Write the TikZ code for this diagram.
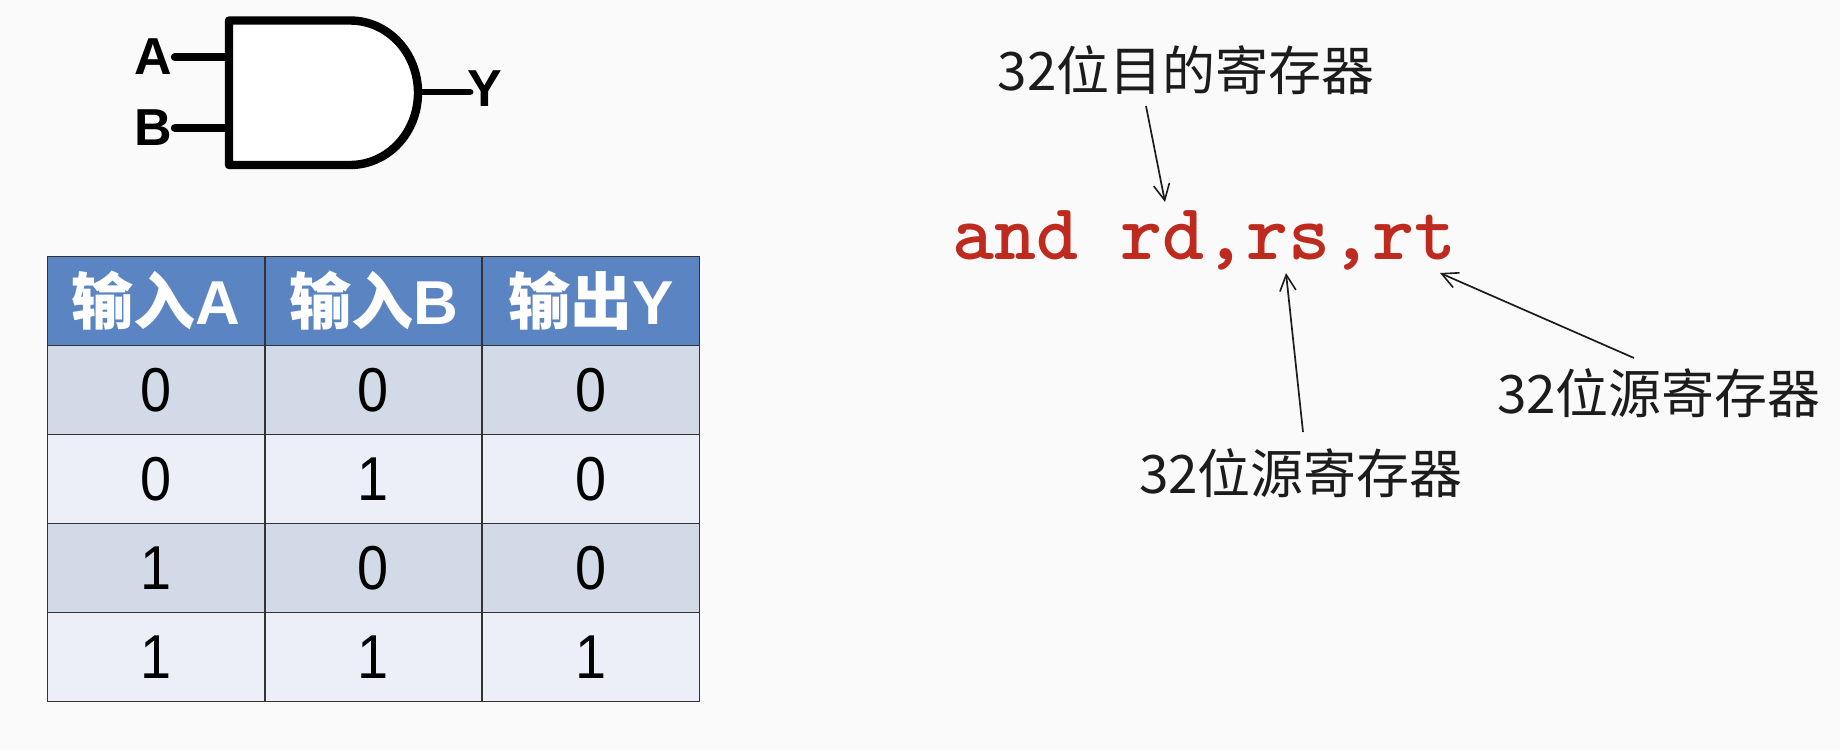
\documentclass[tikz,border=0pt]{standalone}
\usepackage{fontspec}
\setmainfont{Liberation Sans}
\newfontfamily\cjk{Noto Sans CJK SC}
\newfontfamily\tallnum[FakeStretch=0.9]{Liberation Sans}
\usetikzlibrary{arrows.meta}
\definecolor{bgc}{HTML}{FAFAFA}
\definecolor{headc}{HTML}{5B85C2}
\definecolor{rowa}{HTML}{D3DAE7}
\definecolor{rowb}{HTML}{ECEFF7}
\definecolor{codec}{HTML}{BE2A1E}
\definecolor{inkc}{HTML}{1C1C1C}
\tikzset{
  x=0.5pt,y=-0.5pt,
  gatelabel/.style={font=\fontsize{26}{26}\selectfont\bfseries,text=black,inner sep=0pt},
  lead/.style={line width=4.2pt,line cap=round},
  cell/.style={draw=inkc!90,line width=0.85pt,minimum width=108.5pt,minimum height=44.4pt,inner sep=0pt,anchor=center},
  headcell/.style={cell,fill=headc,text=white,font=\fontsize{31}{31}\selectfont\bfseries},
  cella/.style={cell,fill=rowa,text=black,font=\fontsize{31}{31}\selectfont\tallnum},
  cellb/.style={cell,fill=rowb,text=black,font=\fontsize{31}{31}\selectfont\tallnum},
  note/.style={font=\fontsize{26.5}{26.5}\selectfont\cjk,text=inkc,inner sep=0pt},
  pointer/.style={-{Straight Barb[length=8pt,width=8pt,line width=0.8pt]},line width=0.85pt,draw=inkc},
}
\begin{document}
\begin{tikzpicture}
\useasboundingbox[fill=bgc] (0,0) rectangle (1840,750);
% gate
\coordinate (aend) at (175,57);
\coordinate (bend) at (175,128);
\coordinate (ain) at (229,57);
\coordinate (bin) at (229,128);
\coordinate (yout) at (418,92);
\coordinate (yend) at (470,92);
\draw[lead] (aend) -- (ain);
\draw[lead] (bend) -- (bin);
\draw[line width=3.4pt,line cap=round] (yout) -- (yend);
\draw[line width=4.2pt,fill=white,line join=round] (229,20.5) -- (350,20.5)
  .. controls (388,20.5) and (418,53) .. (418,92.7)
  .. controls (418,132.5) and (388,165) .. (350,165) -- (229,165) -- cycle;
\node[gatelabel] (labA) at (153,57) {A};
\node[gatelabel] (labB) at (153,128) {B};
\node[gatelabel] (labY) at (485,89) {Y};
% table
\node[headcell] (h1) at (156,301) {{\cjk 输入}A};
\node[headcell] (h2) at (373.5,301) {{\cjk 输入}B};
\node[headcell] (h3) at (591,301) {{\cjk 输出}Y};
\node[cella] (a1) at (156,390) {0};
\node[cella] (a2) at (373.5,390) {0};
\node[cella] (a3) at (591,390) {0};
\node[cellb] (b1) at (156,479) {0};
\node[cellb] (b2) at (373.5,479) {1};
\node[cellb] (b3) at (591,479) {0};
\node[cella] (c1) at (156,568) {1};
\node[cella] (c2) at (373.5,568) {0};
\node[cella] (c3) at (591,568) {0};
\node[cellb] (d1) at (156,657) {1};
\node[cellb] (d2) at (373.5,657) {1};
\node[cellb] (d3) at (591,657) {1};
% code
\node[font=\fontsize{40}{40}\selectfont\ttfamily\bfseries\addfontfeatures{FakeBold=0.6},text=codec,inner sep=0pt] (code) at (1204,240) {and rd,rs,rt};
\node[note] (dst) at (1186,70) {32位目的寄存器};
\node[note] (src1) at (1301,473) {32位源寄存器};
\node[note] (src2) at (1659,393) {32位源寄存器};
\coordinate (dstA) at (1146,106);
\coordinate (dstB) at (1165,202);
\coordinate (s1A) at (1303,432);
\coordinate (s1B) at (1286,273);
\coordinate (s2A) at (1634,358);
\coordinate (s2B) at (1440,273);
\draw[pointer] (dstA) -- (dstB);
\draw[pointer] (s1A) -- (s1B);
\draw[pointer] (s2A) -- (s2B);
\end{tikzpicture}
\end{document}
